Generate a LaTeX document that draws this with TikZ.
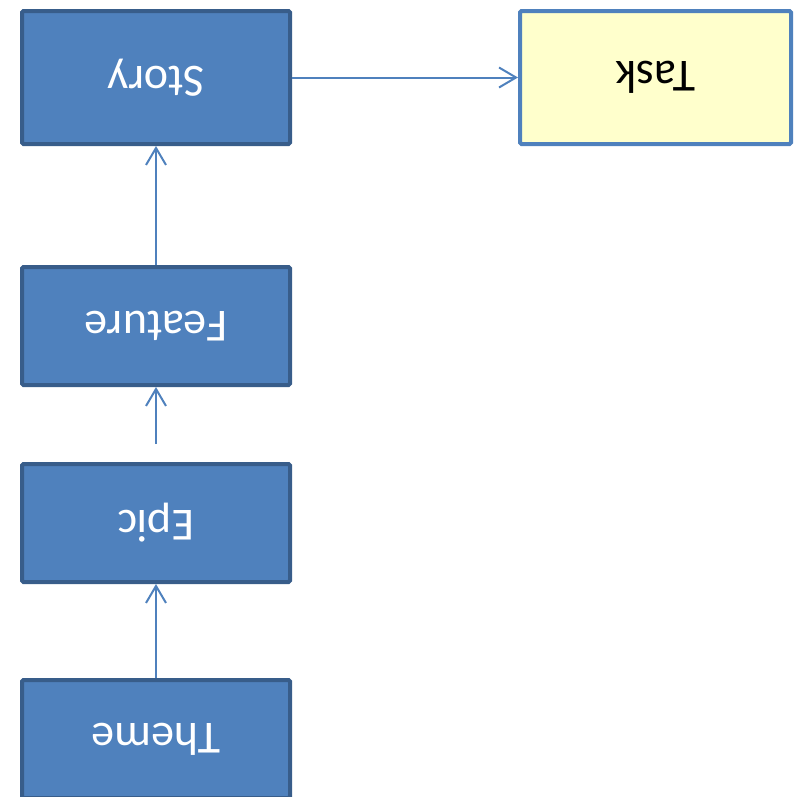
\documentclass[tikz,border=0pt]{standalone}
\usepackage{fontspec}
\setmainfont{Carlito}
\usetikzlibrary{arrows.meta}
\definecolor{boxfill}{HTML}{4F81BD}
\definecolor{boxline}{HTML}{385D8A}
\definecolor{taskfill}{HTML}{FFFFCC}
\tikzstyle{block}=[rectangle,fill=boxfill,draw=boxline,line width=4pt,rounded corners=1.5pt,text=white,font=\fontsize{46}{50}\selectfont,rotate=180,inner sep=0pt]
\tikzstyle{taskblock}=[block,fill=taskfill,draw=boxfill,text=black]
\tikzstyle{edge}=[draw,line width=2pt,boxfill,-{Straight Barb[length=17pt,width=20pt]}]

\begin{document}
\begin{tikzpicture}[x=1pt,y=-1pt]
    \useasboundingbox (0,0) rectangle (800,796);

    \foreach \pos/\name/\h in {{(156,77.5)/Story/133},{(156,326)/Feature/118},{(156,523)/Epic/118},{(156,739)/Theme/118}}
        \node[block,minimum width=268pt,minimum height=\h pt] (\name) at \pos {\name};
    \node[taskblock,minimum width=271pt,minimum height=133pt] (Task) at (655.5,77.5) {Task};

    % Connect the levels from bottom to top
    \foreach \source/\dest in {Theme/Epic, Feature/Story, Story/Task}
        \path[edge] (\source) -- (\dest);
    \path[edge,shorten <=18pt] (Epic) -- (Feature);
\end{tikzpicture}
\end{document}
